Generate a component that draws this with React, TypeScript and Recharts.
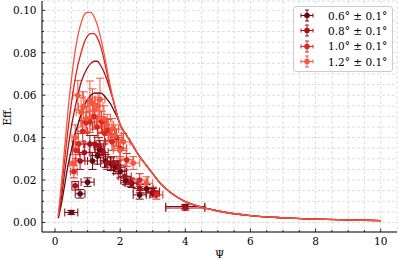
import React from 'react';
import {
  ComposedChart,
  Line,
  Scatter,
  ErrorBar,
  XAxis,
  YAxis,
  CartesianGrid,
  Legend
} from 'recharts';

// curve grid (Psi) and fitted efficiency curves per angle
const psi = [0.1, 0.2, 0.3, 0.4, 0.5, 0.6, 0.7, 0.8, 0.9, 1.0, 1.1, 1.2, 1.3, 1.4, 1.5, 1.6, 1.7, 1.8, 1.9, 2.0,
  2.2, 2.4, 2.6, 2.8, 3.0, 3.2, 3.4, 3.6, 3.8, 4.0, 4.5, 5, 6, 7, 8, 9, 10];
const tail = [0.041, 0.036, 0.031, 0.027, 0.023, 0.019, 0.016, 0.0135, 0.0115, 0.0098, 0.0072, 0.0054, 0.0032, 0.0022, 0.0016, 0.0012, 0.0009];
const eff06 = [0.002, 0.009, 0.018, 0.027, 0.034, 0.041, 0.046, 0.051, 0.055, 0.058, 0.060, 0.061, 0.061, 0.061, 0.060, 0.058, 0.056, 0.053, 0.050, 0.046, ...tail];
const eff08 = [0.002, 0.012, 0.024, 0.035, 0.045, 0.053, 0.060, 0.066, 0.070, 0.073, 0.075, 0.076, 0.076, 0.074, 0.071, 0.067, 0.062, 0.057, 0.051, 0.046, ...tail];
const eff10 = [0.003, 0.016, 0.030, 0.044, 0.056, 0.066, 0.074, 0.080, 0.085, 0.088, 0.089, 0.089, 0.087, 0.083, 0.077, 0.070, 0.063, 0.057, 0.051, 0.046, ...tail];
const eff12 = [0.003, 0.019, 0.036, 0.053, 0.067, 0.079, 0.088, 0.094, 0.098, 0.099, 0.099, 0.097, 0.093, 0.087, 0.080, 0.072, 0.064, 0.057, 0.051, 0.046, ...tail];

// measured points: [psi, eff, psiErr, effErr]
const pts06 = [
  [0.5, 0.0047, 0.2, 0.001], [0.77, 0.0135, 0.15, 0.002], [1.0, 0.019, 0.2, 0.002], [1.15, 0.029, 0.15, 0.004],
  [1.3, 0.0315, 0.2, 0.004], [1.38, 0.0345, 0.15, 0.004], [1.55, 0.029, 0.15, 0.003], [1.72, 0.0275, 0.2, 0.003],
  [1.87, 0.026, 0.15, 0.003], [2.0, 0.024, 0.2, 0.003], [2.17, 0.0198, 0.15, 0.002], [2.35, 0.0185, 0.2, 0.002],
  [2.6, 0.013, 0.2, 0.002], [2.81, 0.0159, 0.2, 0.002], [3.0, 0.014, 0.2, 0.002], [4.0, 0.0075, 0.6, 0.001]
];
const pts08 = [
  [0.62, 0.0173, 0.1, 0.002], [0.77, 0.029, 0.15, 0.004], [0.9, 0.033, 0.15, 0.004], [1.07, 0.037, 0.15, 0.004],
  [1.22, 0.037, 0.15, 0.004], [1.35, 0.036, 0.15, 0.004], [1.48, 0.033, 0.15, 0.004], [1.6, 0.028, 0.2, 0.003],
  [1.79, 0.028, 0.2, 0.003], [1.95, 0.026, 0.2, 0.003], [2.14, 0.0217, 0.2, 0.003], [2.32, 0.019, 0.2, 0.002],
  [2.6, 0.016, 0.2, 0.002], [3.01, 0.0146, 0.2, 0.002], [4.0, 0.0068, 0.6, 0.001]
];
const pts10 = [
  [0.58, 0.024, 0.1, 0.003], [0.64, 0.034, 0.1, 0.004], [0.72, 0.037, 0.15, 0.005], [0.85, 0.043, 0.15, 0.005],
  [0.95, 0.047, 0.15, 0.005], [1.07, 0.0475, 0.15, 0.005], [1.2, 0.050, 0.15, 0.006], [1.3, 0.045, 0.15, 0.005],
  [1.43, 0.0475, 0.15, 0.005], [1.52, 0.042, 0.2, 0.005], [1.63, 0.0436, 0.2, 0.005], [1.75, 0.038, 0.2, 0.004],
  [1.89, 0.040, 0.2, 0.004], [2.0, 0.035, 0.2, 0.004], [2.2, 0.0295, 0.2, 0.003], [2.6, 0.020, 0.25, 0.003],
  [3.11, 0.013, 0.2, 0.002]
];
const pts12 = [
  [0.55, 0.028, 0.1, 0.004], [0.62, 0.040, 0.1, 0.006], [0.7, 0.060, 0.15, 0.007], [0.8, 0.052, 0.15, 0.007],
  [0.87, 0.0546, 0.15, 0.007], [0.97, 0.049, 0.15, 0.006], [1.07, 0.0577, 0.15, 0.009], [1.15, 0.056, 0.15, 0.007],
  [1.22, 0.053, 0.15, 0.006], [1.32, 0.055, 0.15, 0.006], [1.38, 0.058, 0.15, 0.010], [1.5, 0.049, 0.2, 0.006],
  [1.6, 0.046, 0.2, 0.005], [1.75, 0.044, 0.2, 0.005], [1.85, 0.041, 0.2, 0.005], [1.99, 0.034, 0.2, 0.004],
  [2.1, 0.038, 0.2, 0.004], [2.4, 0.028, 0.2, 0.003], [2.8, 0.0185, 0.2, 0.003]
];

const seriesNames = ['0.6° ± 0.1°', '0.8° ± 0.1°', '1.0° ± 0.1°', '1.2° ± 0.1°'];
const seriesColors = ['#6a0710', '#a8111a', '#d8281f', '#f5573f'];

const xTicks = [0, 0.5, 1, 1.5, 2, 2.5, 3, 3.5, 4, 4.5, 5, 5.5, 6, 6.5, 7, 7.5, 8, 8.5, 9, 9.5, 10];
const yTicks = [0, 0.005, 0.01, 0.015, 0.02, 0.025, 0.03, 0.035, 0.04, 0.045, 0.05, 0.055, 0.06, 0.065, 0.07,
  0.075, 0.08, 0.085, 0.09, 0.095, 0.1];

const FONT = "'DejaVu Serif', serif";

const curves = [eff06, eff08, eff10, eff12].map(vals => psi.map((x, i) => ({ x, y: vals[i] })));
const points = [pts06, pts08, pts10, pts12].map(rows =>
  rows.map(([x, y, ex, ey]) => ({ x, y, ex, ey }))
);

const isMult = (v: number, step: number) => Math.abs(v / step - Math.round(v / step)) < 1e-6;

// inward matplotlib-like ticks, major/minor drawn from the same tick list
const makeTick = (side: 'bottom' | 'top' | 'left' | 'right') => (props: any) => {
  const { x, y, payload } = props;
  const v = payload.value;
  const major = side === 'bottom' || side === 'top' ? isMult(v, 2) : isMult(v, 0.02);
  const len = major ? 3.5 : 2;
  let line;
  if (side === 'bottom') line = <line x1={x} y1={y} x2={x} y2={y - len} stroke="#000" strokeWidth={0.8} />;
  else if (side === 'top') line = <line x1={x} y1={y} x2={x} y2={y + len} stroke="#000" strokeWidth={0.8} />;
  else if (side === 'left') line = <line x1={x} y1={y} x2={x + len} y2={y} stroke="#000" strokeWidth={0.8} />;
  else line = <line x1={x} y1={y} x2={x - len} y2={y} stroke="#000" strokeWidth={0.8} />;
  return (
    <g>
      {line}
      {major && side === 'bottom' && (
        <text x={x} y={y + 9} textAnchor="middle" dominantBaseline="central" fontSize={10.5} fontFamily={FONT} fill="#000">
          {String(v)}
        </text>
      )}
      {major && side === 'left' && (
        <text x={x - 5.5} y={y} textAnchor="end" dominantBaseline="central" fontSize={10.5} fontFamily={FONT} fill="#000">
          {v.toFixed(2)}
        </text>
      )}
    </g>
  );
};

const YLabel = ({ viewBox }: any) => {
  const cx = viewBox.x + 7;
  const cy = viewBox.y + viewBox.height / 2;
  return (
    <text x={cx} y={cy} transform={`rotate(-90 ${cx} ${cy})`} textAnchor="middle" dominantBaseline="central"
      fontSize={10.5} fontFamily={FONT} fill="#000">Eff.</text>
  );
};

const XLabel = ({ viewBox }: any) => (
  <text x={viewBox.x + viewBox.width / 2} y={viewBox.y + 21.5} textAnchor="middle" dominantBaseline="central"
    fontSize={10.5} fontFamily={FONT} fill="#000">Ψ</text>
);

const ErrIcon = ({ color }: { color: string }) => (
  <svg width={16} height={13}>
    <line x1={2} y1={6.5} x2={14} y2={6.5} stroke={color} strokeWidth={1} />
    <line x1={2} y1={4.5} x2={2} y2={8.5} stroke={color} strokeWidth={1} />
    <line x1={14} y1={4.5} x2={14} y2={8.5} stroke={color} strokeWidth={1} />
    <line x1={8} y1={1} x2={8} y2={12} stroke={color} strokeWidth={1} />
    <line x1={6} y1={1} x2={10} y2={1} stroke={color} strokeWidth={1} />
    <line x1={6} y1={12} x2={10} y2={12} stroke={color} strokeWidth={1} />
    <circle cx={8} cy={6.5} r={2.8} fill={color} />
  </svg>
);

const renderLegend = () => (
  <div style={{
    background: 'rgba(255,255,255,0.85)', border: '1px solid #cccccc', borderRadius: 3,
    padding: '1px 0 2px 5px', fontFamily: FONT, fontSize: 10.5, color: '#000'
  }}>
    {seriesNames.map((name, i) => (
      <div key={name} style={{ display: 'flex', alignItems: 'center', height: 15.3 }}>
        <ErrIcon color={seriesColors[i]} />
        <span style={{ marginLeft: 13, whiteSpace: 'nowrap' }}>{name}</span>
      </div>
    ))}
  </div>
);

export default function App() {
  return (
    <div style={{ position: 'absolute', left: 0, top: 0, background: '#fff' }}>
      <ComposedChart width={399} height={259} margin={{ top: 1, right: 2, bottom: 0, left: 0 }}>
        <CartesianGrid stroke="#d6d6d6" strokeDasharray="3 2" strokeWidth={0.8} />
        <XAxis dataKey="x" type="number" domain={[-0.4, 10.5]} ticks={xTicks} interval={0} allowDataOverflow
          height={27} tickSize={0} tickMargin={0} tick={makeTick('bottom')} stroke="#000" label={<XLabel />} />
        <XAxis xAxisId="top" orientation="top" dataKey="x" type="number" domain={[-0.4, 10.5]} ticks={xTicks}
          interval={0} allowDataOverflow height={0} tickSize={0} tickMargin={0} tick={makeTick('top')} stroke="#000" />
        <YAxis dataKey="y" type="number" domain={[-0.0045, 0.1044]} ticks={yTicks} interval={0} allowDataOverflow
          width={42} tickSize={0} tickMargin={0} tick={makeTick('left')} stroke="#000" label={<YLabel />} />
        <YAxis yAxisId="right" orientation="right" dataKey="y" type="number" domain={[-0.0045, 0.1044]} ticks={yTicks}
          interval={0} allowDataOverflow width={0} tickSize={0} tickMargin={0} tick={makeTick('right')} stroke="#000" />

        {points.map((data, i) => (
          <Scatter key={`s-${i}`} name={seriesNames[i]} data={data} fill={seriesColors[i]} isAnimationActive={false}
            shape={(p: any) => <circle cx={p.cx} cy={p.cy} r={2.8} fill={seriesColors[i]} />}>
            <ErrorBar dataKey="ex" direction="x" width={4} strokeWidth={1} stroke={seriesColors[i]} />
            <ErrorBar dataKey="ey" direction="y" width={4} strokeWidth={1} stroke={seriesColors[i]} />
          </Scatter>
        ))}

        {curves.map((data, i) => (
          <Line key={`l-${i}`} data={data} dataKey="y" type="monotone" dot={false} stroke={seriesColors[i]}
            strokeWidth={1.3} isAnimationActive={false} legendType="none" />
        ))}

        <Legend content={renderLegend} layout="horizontal" verticalAlign="middle" align="center"
          wrapperStyle={{ top: 6, left: 293, width: 100 }} />
      </ComposedChart>
    </div>
  );
}
